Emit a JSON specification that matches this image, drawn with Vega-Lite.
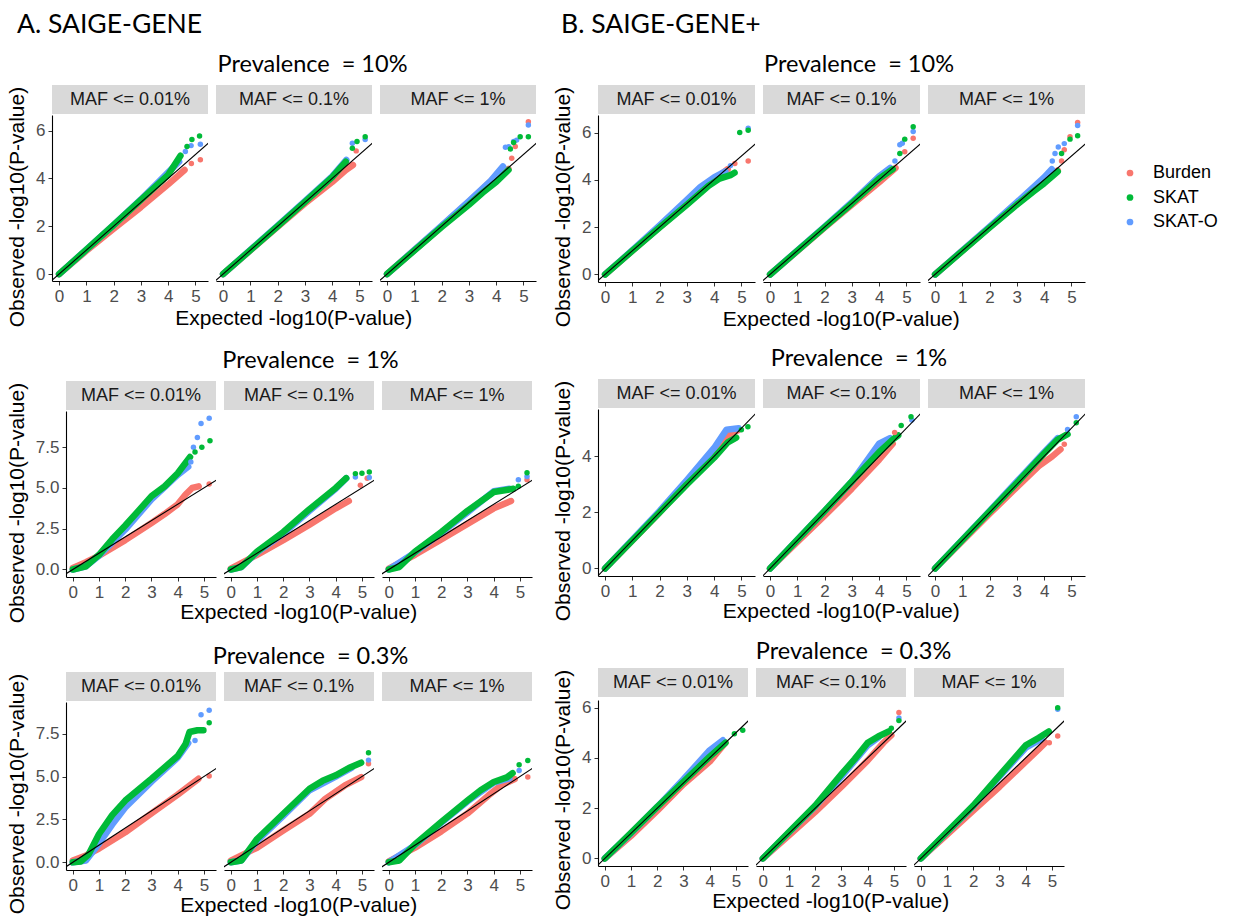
{
"$schema": "https://vega.github.io/schema/vega-lite/v6.json",
"background": "white",
"padding": {"left": 6, "top": 11, "right": 5, "bottom": 0},
"config": {
  "view": {"stroke": null},
  "font": "Liberation Sans",
  "axis": {"domainColor": "#000000", "domainWidth": 1.1, "tickColor": "#333333", "tickSize": 4, "labelColor": "#4D4D4D", "labelFontSize": 17, "labelFont": "Liberation Sans", "labelPadding": 3, "grid": false, "title": null},
  "title": {"font": "Lato", "fontWeight": "normal", "color": "#000000", "fontSize": 23.5}
},
"datasets": {
"ytitle": [{"label": "Observed -log10(P-value)"}],
"strips": [
{"maf":"0.01","label":"MAF <= 0.01%"},{"maf":"0.1","label":"MAF <= 0.1%"},{"maf":"1","label":"MAF <= 1%"}
],
"qq": [
{"g":"A1","maf":"0.01","t":"Burden","k":"l","x":0,"y":0},{"g":"A1","maf":"0.01","t":"Burden","k":"l","x":1,"y":0.97},{"g":"A1","maf":"0.01","t":"Burden","k":"l","x":2,"y":1.9},{"g":"A1","maf":"0.01","t":"Burden","k":"l","x":3,"y":2.8},{"g":"A1","maf":"0.01","t":"Burden","k":"l","x":4,"y":3.75},{"g":"A1","maf":"0.01","t":"Burden","k":"l","x":4.6,"y":4.35},
{"g":"A1","maf":"0.01","t":"Burden","k":"p","x":4.85,"y":4.62},{"g":"A1","maf":"0.01","t":"Burden","k":"p","x":5.18,"y":4.78},
{"g":"A1","maf":"0.01","t":"SKAT-O","k":"l","x":0,"y":0},{"g":"A1","maf":"0.01","t":"SKAT-O","k":"l","x":1,"y":1.02},{"g":"A1","maf":"0.01","t":"SKAT-O","k":"l","x":2,"y":2.05},{"g":"A1","maf":"0.01","t":"SKAT-O","k":"l","x":3,"y":3.12},{"g":"A1","maf":"0.01","t":"SKAT-O","k":"l","x":4,"y":4.25},{"g":"A1","maf":"0.01","t":"SKAT-O","k":"l","x":4.4,"y":4.7},
{"g":"A1","maf":"0.01","t":"SKAT-O","k":"p","x":4.63,"y":5.12},{"g":"A1","maf":"0.01","t":"SKAT-O","k":"p","x":4.84,"y":5.37},{"g":"A1","maf":"0.01","t":"SKAT-O","k":"p","x":5.18,"y":5.43},
{"g":"A1","maf":"0.01","t":"SKAT","k":"l","x":0,"y":0},{"g":"A1","maf":"0.01","t":"SKAT","k":"l","x":1,"y":1.02},{"g":"A1","maf":"0.01","t":"SKAT","k":"l","x":2,"y":2.05},{"g":"A1","maf":"0.01","t":"SKAT","k":"l","x":3,"y":3.1},{"g":"A1","maf":"0.01","t":"SKAT","k":"l","x":4,"y":4.15},{"g":"A1","maf":"0.01","t":"SKAT","k":"l","x":4.45,"y":4.95},
{"g":"A1","maf":"0.01","t":"SKAT","k":"p","x":4.69,"y":5.33},{"g":"A1","maf":"0.01","t":"SKAT","k":"p","x":4.87,"y":5.63},{"g":"A1","maf":"0.01","t":"SKAT","k":"p","x":5.15,"y":5.77},

{"g":"A1","maf":"0.1","t":"Burden","k":"l","x":0,"y":0},{"g":"A1","maf":"0.1","t":"Burden","k":"l","x":2,"y":1.98},{"g":"A1","maf":"0.1","t":"Burden","k":"l","x":3,"y":2.95},{"g":"A1","maf":"0.1","t":"Burden","k":"l","x":4,"y":3.85},{"g":"A1","maf":"0.1","t":"Burden","k":"l","x":4.5,"y":4.35},{"g":"A1","maf":"0.1","t":"Burden","k":"l","x":4.76,"y":4.56},
{"g":"A1","maf":"0.1","t":"Burden","k":"p","x":4.88,"y":5.15},
{"g":"A1","maf":"0.1","t":"SKAT-O","k":"l","x":0,"y":0},{"g":"A1","maf":"0.1","t":"SKAT-O","k":"l","x":2,"y":2.02},{"g":"A1","maf":"0.1","t":"SKAT-O","k":"l","x":3,"y":3.05},{"g":"A1","maf":"0.1","t":"SKAT-O","k":"l","x":4,"y":4.08},{"g":"A1","maf":"0.1","t":"SKAT-O","k":"l","x":4.52,"y":4.77},
{"g":"A1","maf":"0.1","t":"SKAT-O","k":"p","x":4.74,"y":5.47},{"g":"A1","maf":"0.1","t":"SKAT-O","k":"p","x":5.21,"y":5.63},
{"g":"A1","maf":"0.1","t":"SKAT","k":"l","x":0,"y":0},{"g":"A1","maf":"0.1","t":"SKAT","k":"l","x":2,"y":2},{"g":"A1","maf":"0.1","t":"SKAT","k":"l","x":3,"y":3.02},{"g":"A1","maf":"0.1","t":"SKAT","k":"l","x":4,"y":4.05},{"g":"A1","maf":"0.1","t":"SKAT","k":"l","x":4.5,"y":4.7},
{"g":"A1","maf":"0.1","t":"SKAT","k":"p","x":4.74,"y":5.26},{"g":"A1","maf":"0.1","t":"SKAT","k":"p","x":4.91,"y":5.54},{"g":"A1","maf":"0.1","t":"SKAT","k":"p","x":5.21,"y":5.74},

{"g":"A1","maf":"1","t":"Burden","k":"l","x":0,"y":0},{"g":"A1","maf":"1","t":"Burden","k":"l","x":2,"y":2},{"g":"A1","maf":"1","t":"Burden","k":"l","x":3,"y":3.02},{"g":"A1","maf":"1","t":"Burden","k":"l","x":3.85,"y":3.93},{"g":"A1","maf":"1","t":"Burden","k":"l","x":4.2,"y":4.25},{"g":"A1","maf":"1","t":"Burden","k":"l","x":4.45,"y":4.4},
{"g":"A1","maf":"1","t":"Burden","k":"p","x":4.57,"y":4.84},{"g":"A1","maf":"1","t":"Burden","k":"p","x":4.7,"y":5.33},{"g":"A1","maf":"1","t":"Burden","k":"p","x":5.18,"y":6.37},
{"g":"A1","maf":"1","t":"SKAT-O","k":"l","x":0,"y":0},{"g":"A1","maf":"1","t":"SKAT-O","k":"l","x":2,"y":2.02},{"g":"A1","maf":"1","t":"SKAT-O","k":"l","x":3,"y":3.05},{"g":"A1","maf":"1","t":"SKAT-O","k":"l","x":3.8,"y":3.9},{"g":"A1","maf":"1","t":"SKAT-O","k":"l","x":4.25,"y":4.5},
{"g":"A1","maf":"1","t":"SKAT-O","k":"p","x":4.34,"y":5.3},{"g":"A1","maf":"1","t":"SKAT-O","k":"p","x":4.46,"y":5.32},{"g":"A1","maf":"1","t":"SKAT-O","k":"p","x":4.64,"y":5.54},{"g":"A1","maf":"1","t":"SKAT-O","k":"p","x":4.75,"y":5.6},{"g":"A1","maf":"1","t":"SKAT-O","k":"p","x":5.18,"y":6.23},
{"g":"A1","maf":"1","t":"SKAT","k":"l","x":0,"y":0},{"g":"A1","maf":"1","t":"SKAT","k":"l","x":2,"y":1.97},{"g":"A1","maf":"1","t":"SKAT","k":"l","x":3,"y":2.9},{"g":"A1","maf":"1","t":"SKAT","k":"l","x":3.5,"y":3.4},{"g":"A1","maf":"1","t":"SKAT","k":"l","x":4,"y":3.85},{"g":"A1","maf":"1","t":"SKAT","k":"l","x":4.45,"y":4.35},
{"g":"A1","maf":"1","t":"SKAT","k":"p","x":4.52,"y":5.23},{"g":"A1","maf":"1","t":"SKAT","k":"p","x":4.64,"y":5.5},{"g":"A1","maf":"1","t":"SKAT","k":"p","x":4.88,"y":5.74},{"g":"A1","maf":"1","t":"SKAT","k":"p","x":5.18,"y":5.74},

{"g":"A2","maf":"0.01","t":"Burden","k":"l","x":0,"y":0.1},{"g":"A2","maf":"0.01","t":"Burden","k":"l","x":0.5,"y":0.45},{"g":"A2","maf":"0.01","t":"Burden","k":"l","x":1,"y":0.85},{"g":"A2","maf":"0.01","t":"Burden","k":"l","x":2,"y":1.8},{"g":"A2","maf":"0.01","t":"Burden","k":"l","x":3,"y":2.85},{"g":"A2","maf":"0.01","t":"Burden","k":"l","x":3.5,"y":3.4},{"g":"A2","maf":"0.01","t":"Burden","k":"l","x":4,"y":4.0},{"g":"A2","maf":"0.01","t":"Burden","k":"l","x":4.3,"y":4.6},{"g":"A2","maf":"0.01","t":"Burden","k":"l","x":4.55,"y":5.0},{"g":"A2","maf":"0.01","t":"Burden","k":"l","x":4.8,"y":5.1},
{"g":"A2","maf":"0.01","t":"Burden","k":"p","x":5.2,"y":5.25},
{"g":"A2","maf":"0.01","t":"SKAT-O","k":"l","x":0,"y":0},{"g":"A2","maf":"0.01","t":"SKAT-O","k":"l","x":0.5,"y":0.2},{"g":"A2","maf":"0.01","t":"SKAT-O","k":"l","x":1,"y":0.85},{"g":"A2","maf":"0.01","t":"SKAT-O","k":"l","x":2,"y":2.45},{"g":"A2","maf":"0.01","t":"SKAT-O","k":"l","x":3,"y":4.3},{"g":"A2","maf":"0.01","t":"SKAT-O","k":"l","x":4,"y":5.8},{"g":"A2","maf":"0.01","t":"SKAT-O","k":"l","x":4.4,"y":6.3},
{"g":"A2","maf":"0.01","t":"SKAT-O","k":"p","x":4.5,"y":6.6},{"g":"A2","maf":"0.01","t":"SKAT-O","k":"p","x":4.6,"y":7.5},{"g":"A2","maf":"0.01","t":"SKAT-O","k":"p","x":4.75,"y":8.1},{"g":"A2","maf":"0.01","t":"SKAT-O","k":"p","x":4.89,"y":8.96},{"g":"A2","maf":"0.01","t":"SKAT-O","k":"p","x":5.2,"y":9.27},
{"g":"A2","maf":"0.01","t":"SKAT","k":"l","x":0,"y":0},{"g":"A2","maf":"0.01","t":"SKAT","k":"l","x":0.5,"y":0.2},{"g":"A2","maf":"0.01","t":"SKAT","k":"l","x":1,"y":0.9},{"g":"A2","maf":"0.01","t":"SKAT","k":"l","x":1.5,"y":1.85},{"g":"A2","maf":"0.01","t":"SKAT","k":"l","x":2,"y":2.7},{"g":"A2","maf":"0.01","t":"SKAT","k":"l","x":2.5,"y":3.6},{"g":"A2","maf":"0.01","t":"SKAT","k":"l","x":3,"y":4.5},{"g":"A2","maf":"0.01","t":"SKAT","k":"l","x":3.5,"y":5.1},{"g":"A2","maf":"0.01","t":"SKAT","k":"l","x":4,"y":5.9},{"g":"A2","maf":"0.01","t":"SKAT","k":"l","x":4.47,"y":6.9},
{"g":"A2","maf":"0.01","t":"SKAT","k":"p","x":4.66,"y":7.2},{"g":"A2","maf":"0.01","t":"SKAT","k":"p","x":4.92,"y":7.5},{"g":"A2","maf":"0.01","t":"SKAT","k":"p","x":5.23,"y":7.9},

{"g":"A2","maf":"0.1","t":"Burden","k":"l","x":0,"y":0.05},{"g":"A2","maf":"0.1","t":"Burden","k":"l","x":1,"y":0.9},{"g":"A2","maf":"0.1","t":"Burden","k":"l","x":2,"y":1.8},{"g":"A2","maf":"0.1","t":"Burden","k":"l","x":3,"y":2.75},{"g":"A2","maf":"0.1","t":"Burden","k":"l","x":4,"y":3.75},{"g":"A2","maf":"0.1","t":"Burden","k":"l","x":4.5,"y":4.2},
{"g":"A2","maf":"0.1","t":"Burden","k":"p","x":4.94,"y":5.17},{"g":"A2","maf":"0.1","t":"Burden","k":"p","x":5.2,"y":5.6},
{"g":"A2","maf":"0.1","t":"SKAT-O","k":"l","x":0,"y":0},{"g":"A2","maf":"0.1","t":"SKAT-O","k":"l","x":0.4,"y":0.15},{"g":"A2","maf":"0.1","t":"SKAT-O","k":"l","x":1,"y":1.05},{"g":"A2","maf":"0.1","t":"SKAT-O","k":"l","x":2,"y":2.2},{"g":"A2","maf":"0.1","t":"SKAT-O","k":"l","x":3,"y":3.6},{"g":"A2","maf":"0.1","t":"SKAT-O","k":"l","x":4,"y":4.95},{"g":"A2","maf":"0.1","t":"SKAT-O","k":"l","x":4.4,"y":5.6},
{"g":"A2","maf":"0.1","t":"SKAT-O","k":"p","x":4.75,"y":5.67},{"g":"A2","maf":"0.1","t":"SKAT-O","k":"p","x":5.28,"y":5.64},
{"g":"A2","maf":"0.1","t":"SKAT","k":"l","x":0,"y":0},{"g":"A2","maf":"0.1","t":"SKAT","k":"l","x":0.4,"y":0.15},{"g":"A2","maf":"0.1","t":"SKAT","k":"l","x":1,"y":1.1},{"g":"A2","maf":"0.1","t":"SKAT","k":"l","x":2,"y":2.3},{"g":"A2","maf":"0.1","t":"SKAT","k":"l","x":3,"y":3.7},{"g":"A2","maf":"0.1","t":"SKAT","k":"l","x":4,"y":5.0},{"g":"A2","maf":"0.1","t":"SKAT","k":"l","x":4.4,"y":5.6},
{"g":"A2","maf":"0.1","t":"SKAT","k":"p","x":4.75,"y":5.88},{"g":"A2","maf":"0.1","t":"SKAT","k":"p","x":5.0,"y":5.9},{"g":"A2","maf":"0.1","t":"SKAT","k":"p","x":5.28,"y":5.98},

{"g":"A2","maf":"1","t":"Burden","k":"l","x":0,"y":0.05},{"g":"A2","maf":"1","t":"Burden","k":"l","x":1,"y":0.9},{"g":"A2","maf":"1","t":"Burden","k":"l","x":2,"y":1.85},{"g":"A2","maf":"1","t":"Burden","k":"l","x":3,"y":2.8},{"g":"A2","maf":"1","t":"Burden","k":"l","x":4,"y":3.75},{"g":"A2","maf":"1","t":"Burden","k":"l","x":4.66,"y":4.2},
{"g":"A2","maf":"1","t":"Burden","k":"p","x":5.27,"y":5.5},
{"g":"A2","maf":"1","t":"SKAT-O","k":"l","x":0,"y":0},{"g":"A2","maf":"1","t":"SKAT-O","k":"l","x":1,"y":1.05},{"g":"A2","maf":"1","t":"SKAT-O","k":"l","x":2,"y":2.25},{"g":"A2","maf":"1","t":"SKAT-O","k":"l","x":3,"y":3.5},{"g":"A2","maf":"1","t":"SKAT-O","k":"l","x":4,"y":4.8},{"g":"A2","maf":"1","t":"SKAT-O","k":"l","x":4.6,"y":4.95},
{"g":"A2","maf":"1","t":"SKAT-O","k":"p","x":4.94,"y":5.5},{"g":"A2","maf":"1","t":"SKAT-O","k":"p","x":5.27,"y":5.7},
{"g":"A2","maf":"1","t":"SKAT","k":"l","x":0,"y":0},{"g":"A2","maf":"1","t":"SKAT","k":"l","x":0.4,"y":0.15},{"g":"A2","maf":"1","t":"SKAT","k":"l","x":1,"y":1.1},{"g":"A2","maf":"1","t":"SKAT","k":"l","x":2,"y":2.3},{"g":"A2","maf":"1","t":"SKAT","k":"l","x":3,"y":3.6},{"g":"A2","maf":"1","t":"SKAT","k":"l","x":4,"y":4.75},{"g":"A2","maf":"1","t":"SKAT","k":"l","x":4.75,"y":4.95},
{"g":"A2","maf":"1","t":"SKAT","k":"p","x":4.94,"y":5.1},{"g":"A2","maf":"1","t":"SKAT","k":"p","x":5.27,"y":5.94},

{"g":"A3","maf":"0.01","t":"Burden","k":"l","x":0,"y":0.1},{"g":"A3","maf":"0.01","t":"Burden","k":"l","x":0.5,"y":0.4},{"g":"A3","maf":"0.01","t":"Burden","k":"l","x":1,"y":0.8},{"g":"A3","maf":"0.01","t":"Burden","k":"l","x":2,"y":1.75},{"g":"A3","maf":"0.01","t":"Burden","k":"l","x":3,"y":2.85},{"g":"A3","maf":"0.01","t":"Burden","k":"l","x":4,"y":3.95},{"g":"A3","maf":"0.01","t":"Burden","k":"l","x":4.79,"y":4.87},
{"g":"A3","maf":"0.01","t":"Burden","k":"p","x":5.2,"y":5.03},
{"g":"A3","maf":"0.01","t":"SKAT-O","k":"l","x":0,"y":0},{"g":"A3","maf":"0.01","t":"SKAT-O","k":"l","x":0.5,"y":0.1},{"g":"A3","maf":"0.01","t":"SKAT-O","k":"l","x":1,"y":1.1},{"g":"A3","maf":"0.01","t":"SKAT-O","k":"l","x":1.5,"y":2.2},{"g":"A3","maf":"0.01","t":"SKAT-O","k":"l","x":2,"y":3.2},{"g":"A3","maf":"0.01","t":"SKAT-O","k":"l","x":3,"y":4.7},{"g":"A3","maf":"0.01","t":"SKAT-O","k":"l","x":4,"y":6.1},{"g":"A3","maf":"0.01","t":"SKAT-O","k":"l","x":4.4,"y":6.95},
{"g":"A3","maf":"0.01","t":"SKAT-O","k":"p","x":4.66,"y":7.11},{"g":"A3","maf":"0.01","t":"SKAT-O","k":"p","x":4.89,"y":8.61},{"g":"A3","maf":"0.01","t":"SKAT-O","k":"p","x":5.2,"y":8.87},
{"g":"A3","maf":"0.01","t":"SKAT","k":"l","x":0,"y":0},{"g":"A3","maf":"0.01","t":"SKAT","k":"l","x":0.3,"y":0.05},{"g":"A3","maf":"0.01","t":"SKAT","k":"l","x":0.6,"y":0.45},{"g":"A3","maf":"0.01","t":"SKAT","k":"l","x":0.8,"y":1.05},{"g":"A3","maf":"0.01","t":"SKAT","k":"l","x":1,"y":1.65},{"g":"A3","maf":"0.01","t":"SKAT","k":"l","x":1.5,"y":2.75},{"g":"A3","maf":"0.01","t":"SKAT","k":"l","x":2,"y":3.6},{"g":"A3","maf":"0.01","t":"SKAT","k":"l","x":3,"y":4.87},{"g":"A3","maf":"0.01","t":"SKAT","k":"l","x":4,"y":6.2},{"g":"A3","maf":"0.01","t":"SKAT","k":"l","x":4.3,"y":6.9},{"g":"A3","maf":"0.01","t":"SKAT","k":"l","x":4.45,"y":7.6},{"g":"A3","maf":"0.01","t":"SKAT","k":"l","x":4.75,"y":7.7},{"g":"A3","maf":"0.01","t":"SKAT","k":"l","x":4.98,"y":7.7},
{"g":"A3","maf":"0.01","t":"SKAT","k":"p","x":5.2,"y":8.14},

{"g":"A3","maf":"0.1","t":"Burden","k":"l","x":0,"y":0.1},{"g":"A3","maf":"0.1","t":"Burden","k":"l","x":1,"y":0.85},{"g":"A3","maf":"0.1","t":"Burden","k":"l","x":2,"y":1.85},{"g":"A3","maf":"0.1","t":"Burden","k":"l","x":3,"y":2.83},{"g":"A3","maf":"0.1","t":"Burden","k":"l","x":3.6,"y":3.7},{"g":"A3","maf":"0.1","t":"Burden","k":"l","x":4.35,"y":4.48},{"g":"A3","maf":"0.1","t":"Burden","k":"l","x":4.97,"y":4.97},
{"g":"A3","maf":"0.1","t":"Burden","k":"p","x":5.25,"y":5.75},
{"g":"A3","maf":"0.1","t":"SKAT-O","k":"l","x":0,"y":0},{"g":"A3","maf":"0.1","t":"SKAT-O","k":"l","x":0.4,"y":0.1},{"g":"A3","maf":"0.1","t":"SKAT-O","k":"l","x":1,"y":1.25},{"g":"A3","maf":"0.1","t":"SKAT-O","k":"l","x":2,"y":2.7},{"g":"A3","maf":"0.1","t":"SKAT-O","k":"l","x":3,"y":4.2},{"g":"A3","maf":"0.1","t":"SKAT-O","k":"l","x":4,"y":5.0},{"g":"A3","maf":"0.1","t":"SKAT-O","k":"l","x":4.6,"y":5.5},
{"g":"A3","maf":"0.1","t":"SKAT-O","k":"p","x":5.25,"y":5.96},
{"g":"A3","maf":"0.1","t":"SKAT","k":"l","x":0,"y":0},{"g":"A3","maf":"0.1","t":"SKAT","k":"l","x":0.4,"y":0.1},{"g":"A3","maf":"0.1","t":"SKAT","k":"l","x":1,"y":1.36},{"g":"A3","maf":"0.1","t":"SKAT","k":"l","x":2,"y":2.83},{"g":"A3","maf":"0.1","t":"SKAT","k":"l","x":3,"y":4.29},{"g":"A3","maf":"0.1","t":"SKAT","k":"l","x":3.5,"y":4.75},{"g":"A3","maf":"0.1","t":"SKAT","k":"l","x":4,"y":5.07},{"g":"A3","maf":"0.1","t":"SKAT","k":"l","x":4.5,"y":5.5},{"g":"A3","maf":"0.1","t":"SKAT","k":"l","x":4.97,"y":5.81},
{"g":"A3","maf":"0.1","t":"SKAT","k":"p","x":5.25,"y":6.39},

{"g":"A3","maf":"1","t":"Burden","k":"l","x":0,"y":0.05},{"g":"A3","maf":"1","t":"Burden","k":"l","x":1,"y":0.85},{"g":"A3","maf":"1","t":"Burden","k":"l","x":2,"y":1.8},{"g":"A3","maf":"1","t":"Burden","k":"l","x":3,"y":2.85},{"g":"A3","maf":"1","t":"Burden","k":"l","x":3.8,"y":3.9},{"g":"A3","maf":"1","t":"Burden","k":"l","x":4.3,"y":4.5},{"g":"A3","maf":"1","t":"Burden","k":"l","x":4.8,"y":4.85},
{"g":"A3","maf":"1","t":"Burden","k":"p","x":5.3,"y":4.97},
{"g":"A3","maf":"1","t":"SKAT-O","k":"l","x":0,"y":0},{"g":"A3","maf":"1","t":"SKAT-O","k":"l","x":1,"y":1.0},{"g":"A3","maf":"1","t":"SKAT-O","k":"l","x":2,"y":2.3},{"g":"A3","maf":"1","t":"SKAT-O","k":"l","x":3,"y":3.55},{"g":"A3","maf":"1","t":"SKAT-O","k":"l","x":4,"y":4.65},{"g":"A3","maf":"1","t":"SKAT-O","k":"l","x":4.6,"y":4.9},
{"g":"A3","maf":"1","t":"SKAT-O","k":"p","x":4.97,"y":5.36},
{"g":"A3","maf":"1","t":"SKAT","k":"l","x":0,"y":0},{"g":"A3","maf":"1","t":"SKAT","k":"l","x":0.4,"y":0.1},{"g":"A3","maf":"1","t":"SKAT","k":"l","x":1,"y":1.05},{"g":"A3","maf":"1","t":"SKAT","k":"l","x":2,"y":2.35},{"g":"A3","maf":"1","t":"SKAT","k":"l","x":3,"y":3.6},{"g":"A3","maf":"1","t":"SKAT","k":"l","x":3.5,"y":4.2},{"g":"A3","maf":"1","t":"SKAT","k":"l","x":4,"y":4.68},{"g":"A3","maf":"1","t":"SKAT","k":"l","x":4.5,"y":4.95},{"g":"A3","maf":"1","t":"SKAT","k":"l","x":4.72,"y":5.2},
{"g":"A3","maf":"1","t":"SKAT","k":"p","x":4.97,"y":5.69},{"g":"A3","maf":"1","t":"SKAT","k":"p","x":5.3,"y":5.94},

{"g":"B1","maf":"0.01","t":"Burden","k":"l","x":0,"y":0},{"g":"B1","maf":"0.01","t":"Burden","k":"l","x":2,"y":2},{"g":"B1","maf":"0.01","t":"Burden","k":"l","x":3,"y":3},{"g":"B1","maf":"0.01","t":"Burden","k":"l","x":4,"y":4},{"g":"B1","maf":"0.01","t":"Burden","k":"l","x":4.5,"y":4.45},
{"g":"B1","maf":"0.01","t":"Burden","k":"p","x":4.76,"y":4.69},{"g":"B1","maf":"0.01","t":"Burden","k":"p","x":5.25,"y":4.8},
{"g":"B1","maf":"0.01","t":"SKAT-O","k":"l","x":0,"y":0},{"g":"B1","maf":"0.01","t":"SKAT-O","k":"l","x":1,"y":1.02},{"g":"B1","maf":"0.01","t":"SKAT-O","k":"l","x":2,"y":2.07},{"g":"B1","maf":"0.01","t":"SKAT-O","k":"l","x":3,"y":3.15},{"g":"B1","maf":"0.01","t":"SKAT-O","k":"l","x":3.5,"y":3.7},{"g":"B1","maf":"0.01","t":"SKAT-O","k":"l","x":4,"y":4.1},{"g":"B1","maf":"0.01","t":"SKAT-O","k":"l","x":4.41,"y":4.36},
{"g":"B1","maf":"0.01","t":"SKAT-O","k":"p","x":4.6,"y":4.6},{"g":"B1","maf":"0.01","t":"SKAT-O","k":"p","x":5.25,"y":6.18},
{"g":"B1","maf":"0.01","t":"SKAT","k":"l","x":0,"y":0},{"g":"B1","maf":"0.01","t":"SKAT","k":"l","x":1,"y":1},{"g":"B1","maf":"0.01","t":"SKAT","k":"l","x":2,"y":1.98},{"g":"B1","maf":"0.01","t":"SKAT","k":"l","x":3,"y":2.95},{"g":"B1","maf":"0.01","t":"SKAT","k":"l","x":3.8,"y":3.75},{"g":"B1","maf":"0.01","t":"SKAT","k":"l","x":4.2,"y":4.05},{"g":"B1","maf":"0.01","t":"SKAT","k":"l","x":4.6,"y":4.2},{"g":"B1","maf":"0.01","t":"SKAT","k":"l","x":4.75,"y":4.3},
{"g":"B1","maf":"0.01","t":"SKAT","k":"p","x":4.94,"y":6.0},{"g":"B1","maf":"0.01","t":"SKAT","k":"p","x":5.25,"y":6.1},

{"g":"B1","maf":"0.1","t":"Burden","k":"l","x":0,"y":0},{"g":"B1","maf":"0.1","t":"Burden","k":"l","x":2,"y":1.98},{"g":"B1","maf":"0.1","t":"Burden","k":"l","x":3,"y":2.95},{"g":"B1","maf":"0.1","t":"Burden","k":"l","x":4,"y":3.9},{"g":"B1","maf":"0.1","t":"Burden","k":"l","x":4.6,"y":4.5},
{"g":"B1","maf":"0.1","t":"Burden","k":"p","x":4.94,"y":5.19},{"g":"B1","maf":"0.1","t":"Burden","k":"p","x":5.25,"y":5.76},
{"g":"B1","maf":"0.1","t":"SKAT-O","k":"l","x":0,"y":0},{"g":"B1","maf":"0.1","t":"SKAT-O","k":"l","x":2,"y":2.02},{"g":"B1","maf":"0.1","t":"SKAT-O","k":"l","x":3,"y":3.05},{"g":"B1","maf":"0.1","t":"SKAT-O","k":"l","x":4,"y":4.15},{"g":"B1","maf":"0.1","t":"SKAT-O","k":"l","x":4.4,"y":4.5},
{"g":"B1","maf":"0.1","t":"SKAT-O","k":"p","x":4.58,"y":4.8},{"g":"B1","maf":"0.1","t":"SKAT-O","k":"p","x":4.76,"y":5.48},{"g":"B1","maf":"0.1","t":"SKAT-O","k":"p","x":4.85,"y":5.55},{"g":"B1","maf":"0.1","t":"SKAT-O","k":"p","x":5.25,"y":6.04},
{"g":"B1","maf":"0.1","t":"SKAT","k":"l","x":0,"y":0},{"g":"B1","maf":"0.1","t":"SKAT","k":"l","x":2,"y":2},{"g":"B1","maf":"0.1","t":"SKAT","k":"l","x":3,"y":3},{"g":"B1","maf":"0.1","t":"SKAT","k":"l","x":4,"y":4.05},{"g":"B1","maf":"0.1","t":"SKAT","k":"l","x":4.5,"y":4.45},
{"g":"B1","maf":"0.1","t":"SKAT","k":"p","x":4.76,"y":5.11},{"g":"B1","maf":"0.1","t":"SKAT","k":"p","x":4.94,"y":5.72},{"g":"B1","maf":"0.1","t":"SKAT","k":"p","x":5.25,"y":6.24},

{"g":"B1","maf":"1","t":"Burden","k":"l","x":0,"y":0},{"g":"B1","maf":"1","t":"Burden","k":"l","x":2,"y":2},{"g":"B1","maf":"1","t":"Burden","k":"l","x":3,"y":3},{"g":"B1","maf":"1","t":"Burden","k":"l","x":4,"y":4},{"g":"B1","maf":"1","t":"Burden","k":"l","x":4.5,"y":4.4},
{"g":"B1","maf":"1","t":"Burden","k":"p","x":4.64,"y":4.8},{"g":"B1","maf":"1","t":"Burden","k":"p","x":4.74,"y":5.27},{"g":"B1","maf":"1","t":"Burden","k":"p","x":4.95,"y":5.82},{"g":"B1","maf":"1","t":"Burden","k":"p","x":5.23,"y":6.42},
{"g":"B1","maf":"1","t":"SKAT-O","k":"l","x":0,"y":0},{"g":"B1","maf":"1","t":"SKAT-O","k":"l","x":2,"y":2.02},{"g":"B1","maf":"1","t":"SKAT-O","k":"l","x":3,"y":3.05},{"g":"B1","maf":"1","t":"SKAT-O","k":"l","x":4,"y":4.1},{"g":"B1","maf":"1","t":"SKAT-O","k":"l","x":4.28,"y":4.45},
{"g":"B1","maf":"1","t":"SKAT-O","k":"p","x":4.3,"y":4.8},{"g":"B1","maf":"1","t":"SKAT-O","k":"p","x":4.4,"y":5.11},{"g":"B1","maf":"1","t":"SKAT-O","k":"p","x":4.52,"y":5.39},{"g":"B1","maf":"1","t":"SKAT-O","k":"p","x":4.74,"y":5.53},{"g":"B1","maf":"1","t":"SKAT-O","k":"p","x":5.23,"y":6.3},
{"g":"B1","maf":"1","t":"SKAT","k":"l","x":0,"y":0},{"g":"B1","maf":"1","t":"SKAT","k":"l","x":2,"y":1.98},{"g":"B1","maf":"1","t":"SKAT","k":"l","x":3,"y":2.95},{"g":"B1","maf":"1","t":"SKAT","k":"l","x":3.6,"y":3.5},{"g":"B1","maf":"1","t":"SKAT","k":"l","x":4,"y":3.85},{"g":"B1","maf":"1","t":"SKAT","k":"l","x":4.5,"y":4.35},
{"g":"B1","maf":"1","t":"SKAT","k":"p","x":4.64,"y":5.11},{"g":"B1","maf":"1","t":"SKAT","k":"p","x":4.95,"y":5.72},{"g":"B1","maf":"1","t":"SKAT","k":"p","x":5.23,"y":5.86},

{"g":"B2","maf":"0.01","t":"Burden","k":"l","x":0,"y":0},{"g":"B2","maf":"0.01","t":"Burden","k":"l","x":2,"y":2},{"g":"B2","maf":"0.01","t":"Burden","k":"l","x":3,"y":3.05},{"g":"B2","maf":"0.01","t":"Burden","k":"l","x":4,"y":4.15},{"g":"B2","maf":"0.01","t":"Burden","k":"l","x":4.5,"y":4.75},{"g":"B2","maf":"0.01","t":"Burden","k":"l","x":4.9,"y":4.95},
{"g":"B2","maf":"0.01","t":"SKAT-O","k":"l","x":0,"y":0},{"g":"B2","maf":"0.01","t":"SKAT-O","k":"l","x":2,"y":2.05},{"g":"B2","maf":"0.01","t":"SKAT-O","k":"l","x":3,"y":3.15},{"g":"B2","maf":"0.01","t":"SKAT-O","k":"l","x":4,"y":4.3},{"g":"B2","maf":"0.01","t":"SKAT-O","k":"l","x":4.45,"y":4.95},{"g":"B2","maf":"0.01","t":"SKAT-O","k":"l","x":4.9,"y":5.0},
{"g":"B2","maf":"0.01","t":"SKAT","k":"l","x":0,"y":0},{"g":"B2","maf":"0.01","t":"SKAT","k":"l","x":2,"y":2},{"g":"B2","maf":"0.01","t":"SKAT","k":"l","x":3,"y":3},{"g":"B2","maf":"0.01","t":"SKAT","k":"l","x":4,"y":3.95},{"g":"B2","maf":"0.01","t":"SKAT","k":"l","x":4.5,"y":4.5},{"g":"B2","maf":"0.01","t":"SKAT","k":"l","x":4.81,"y":4.67},
{"g":"B2","maf":"0.01","t":"SKAT","k":"p","x":5.0,"y":4.95},{"g":"B2","maf":"0.01","t":"SKAT","k":"p","x":5.24,"y":5.06},

{"g":"B2","maf":"0.1","t":"Burden","k":"l","x":0,"y":0},{"g":"B2","maf":"0.1","t":"Burden","k":"l","x":1,"y":0.95},{"g":"B2","maf":"0.1","t":"Burden","k":"l","x":2,"y":1.88},{"g":"B2","maf":"0.1","t":"Burden","k":"l","x":3,"y":2.85},{"g":"B2","maf":"0.1","t":"Burden","k":"l","x":4,"y":3.88},{"g":"B2","maf":"0.1","t":"Burden","k":"l","x":4.5,"y":4.45},
{"g":"B2","maf":"0.1","t":"Burden","k":"p","x":4.57,"y":4.85},
{"g":"B2","maf":"0.1","t":"SKAT-O","k":"l","x":0,"y":0},{"g":"B2","maf":"0.1","t":"SKAT-O","k":"l","x":2,"y":2.05},{"g":"B2","maf":"0.1","t":"SKAT-O","k":"l","x":3,"y":3.1},{"g":"B2","maf":"0.1","t":"SKAT-O","k":"l","x":4,"y":4.45},{"g":"B2","maf":"0.1","t":"SKAT-O","k":"l","x":4.4,"y":4.65},
{"g":"B2","maf":"0.1","t":"SKAT-O","k":"p","x":5.2,"y":5.3},
{"g":"B2","maf":"0.1","t":"SKAT","k":"l","x":0,"y":0},{"g":"B2","maf":"0.1","t":"SKAT","k":"l","x":2,"y":2.05},{"g":"B2","maf":"0.1","t":"SKAT","k":"l","x":3,"y":3.1},{"g":"B2","maf":"0.1","t":"SKAT","k":"l","x":4,"y":4.15},{"g":"B2","maf":"0.1","t":"SKAT","k":"l","x":4.5,"y":4.6},{"g":"B2","maf":"0.1","t":"SKAT","k":"l","x":4.7,"y":4.75},
{"g":"B2","maf":"0.1","t":"SKAT","k":"p","x":4.81,"y":5.1},{"g":"B2","maf":"0.1","t":"SKAT","k":"p","x":5.17,"y":5.41},

{"g":"B2","maf":"1","t":"Burden","k":"l","x":0,"y":0},{"g":"B2","maf":"1","t":"Burden","k":"l","x":2,"y":1.95},{"g":"B2","maf":"1","t":"Burden","k":"l","x":3,"y":2.9},{"g":"B2","maf":"1","t":"Burden","k":"l","x":3.8,"y":3.65},{"g":"B2","maf":"1","t":"Burden","k":"l","x":4.3,"y":4.0},{"g":"B2","maf":"1","t":"Burden","k":"l","x":4.6,"y":4.25},
{"g":"B2","maf":"1","t":"Burden","k":"p","x":4.74,"y":4.43},
{"g":"B2","maf":"1","t":"SKAT-O","k":"l","x":0,"y":0},{"g":"B2","maf":"1","t":"SKAT-O","k":"l","x":2,"y":2.05},{"g":"B2","maf":"1","t":"SKAT-O","k":"l","x":3,"y":3.1},{"g":"B2","maf":"1","t":"SKAT-O","k":"l","x":4,"y":4.15},{"g":"B2","maf":"1","t":"SKAT-O","k":"l","x":4.5,"y":4.65},
{"g":"B2","maf":"1","t":"SKAT-O","k":"p","x":4.86,"y":4.96},{"g":"B2","maf":"1","t":"SKAT-O","k":"p","x":5.18,"y":5.41},
{"g":"B2","maf":"1","t":"SKAT","k":"l","x":0,"y":0},{"g":"B2","maf":"1","t":"SKAT","k":"l","x":2,"y":2.03},{"g":"B2","maf":"1","t":"SKAT","k":"l","x":3,"y":3.05},{"g":"B2","maf":"1","t":"SKAT","k":"l","x":4,"y":4.1},{"g":"B2","maf":"1","t":"SKAT","k":"l","x":4.5,"y":4.6},{"g":"B2","maf":"1","t":"SKAT","k":"l","x":4.86,"y":4.79},
{"g":"B2","maf":"1","t":"SKAT","k":"p","x":5.18,"y":5.2},

{"g":"B3","maf":"0.01","t":"Burden","k":"l","x":0,"y":0},{"g":"B3","maf":"0.01","t":"Burden","k":"l","x":1,"y":0.9},{"g":"B3","maf":"0.01","t":"Burden","k":"l","x":2,"y":1.9},{"g":"B3","maf":"0.01","t":"Burden","k":"l","x":3,"y":2.95},{"g":"B3","maf":"0.01","t":"Burden","k":"l","x":4,"y":3.85},{"g":"B3","maf":"0.01","t":"Burden","k":"l","x":4.6,"y":4.6},
{"g":"B3","maf":"0.01","t":"SKAT-O","k":"l","x":0,"y":0},{"g":"B3","maf":"0.01","t":"SKAT-O","k":"l","x":1,"y":1.0},{"g":"B3","maf":"0.01","t":"SKAT-O","k":"l","x":2,"y":2.05},{"g":"B3","maf":"0.01","t":"SKAT-O","k":"l","x":3,"y":3.15},{"g":"B3","maf":"0.01","t":"SKAT-O","k":"l","x":4,"y":4.3},{"g":"B3","maf":"0.01","t":"SKAT-O","k":"l","x":4.5,"y":4.7},
{"g":"B3","maf":"0.01","t":"SKAT","k":"l","x":0,"y":0},{"g":"B3","maf":"0.01","t":"SKAT","k":"l","x":1,"y":1.02},{"g":"B3","maf":"0.01","t":"SKAT","k":"l","x":2,"y":2.05},{"g":"B3","maf":"0.01","t":"SKAT","k":"l","x":3,"y":3.05},{"g":"B3","maf":"0.01","t":"SKAT","k":"l","x":4,"y":4.05},{"g":"B3","maf":"0.01","t":"SKAT","k":"l","x":4.6,"y":4.6},
{"g":"B3","maf":"0.01","t":"SKAT","k":"p","x":4.94,"y":4.96},{"g":"B3","maf":"0.01","t":"SKAT","k":"p","x":5.26,"y":5.1},

{"g":"B3","maf":"0.1","t":"Burden","k":"l","x":0,"y":0},{"g":"B3","maf":"0.1","t":"Burden","k":"l","x":1,"y":0.92},{"g":"B3","maf":"0.1","t":"Burden","k":"l","x":2,"y":1.85},{"g":"B3","maf":"0.1","t":"Burden","k":"l","x":3,"y":2.85},{"g":"B3","maf":"0.1","t":"Burden","k":"l","x":4,"y":3.9},{"g":"B3","maf":"0.1","t":"Burden","k":"l","x":4.6,"y":4.6},{"g":"B3","maf":"0.1","t":"Burden","k":"l","x":4.9,"y":4.9},
{"g":"B3","maf":"0.1","t":"Burden","k":"p","x":5.19,"y":5.8},
{"g":"B3","maf":"0.1","t":"SKAT-O","k":"l","x":0,"y":0},{"g":"B3","maf":"0.1","t":"SKAT-O","k":"l","x":2,"y":2.08},{"g":"B3","maf":"0.1","t":"SKAT-O","k":"l","x":3,"y":3.25},{"g":"B3","maf":"0.1","t":"SKAT-O","k":"l","x":4,"y":4.5},{"g":"B3","maf":"0.1","t":"SKAT-O","k":"l","x":4.4,"y":4.8},
{"g":"B3","maf":"0.1","t":"SKAT-O","k":"p","x":5.19,"y":5.58},
{"g":"B3","maf":"0.1","t":"SKAT","k":"l","x":0,"y":0},{"g":"B3","maf":"0.1","t":"SKAT","k":"l","x":1,"y":1.05},{"g":"B3","maf":"0.1","t":"SKAT","k":"l","x":2,"y":2.1},{"g":"B3","maf":"0.1","t":"SKAT","k":"l","x":3,"y":3.35},{"g":"B3","maf":"0.1","t":"SKAT","k":"l","x":3.5,"y":3.95},{"g":"B3","maf":"0.1","t":"SKAT","k":"l","x":4,"y":4.6},{"g":"B3","maf":"0.1","t":"SKAT","k":"l","x":4.4,"y":4.85},{"g":"B3","maf":"0.1","t":"SKAT","k":"l","x":4.8,"y":5.05},
{"g":"B3","maf":"0.1","t":"SKAT","k":"p","x":4.9,"y":5.18},{"g":"B3","maf":"0.1","t":"SKAT","k":"p","x":5.19,"y":5.48},

{"g":"B3","maf":"1","t":"Burden","k":"l","x":0,"y":0},{"g":"B3","maf":"1","t":"Burden","k":"l","x":1,"y":0.95},{"g":"B3","maf":"1","t":"Burden","k":"l","x":2,"y":1.9},{"g":"B3","maf":"1","t":"Burden","k":"l","x":3,"y":2.85},{"g":"B3","maf":"1","t":"Burden","k":"l","x":4,"y":3.85},{"g":"B3","maf":"1","t":"Burden","k":"l","x":4.5,"y":4.35},{"g":"B3","maf":"1","t":"Burden","k":"l","x":4.75,"y":4.6},
{"g":"B3","maf":"1","t":"Burden","k":"p","x":4.9,"y":4.6},{"g":"B3","maf":"1","t":"Burden","k":"p","x":5.22,"y":4.87},
{"g":"B3","maf":"1","t":"SKAT-O","k":"l","x":0,"y":0},{"g":"B3","maf":"1","t":"SKAT-O","k":"l","x":2,"y":2.08},{"g":"B3","maf":"1","t":"SKAT-O","k":"l","x":3,"y":3.25},{"g":"B3","maf":"1","t":"SKAT-O","k":"l","x":4,"y":4.4},{"g":"B3","maf":"1","t":"SKAT-O","k":"l","x":4.6,"y":4.75},
{"g":"B3","maf":"1","t":"SKAT-O","k":"p","x":5.22,"y":5.93},
{"g":"B3","maf":"1","t":"SKAT","k":"l","x":0,"y":0},{"g":"B3","maf":"1","t":"SKAT","k":"l","x":1,"y":1.05},{"g":"B3","maf":"1","t":"SKAT","k":"l","x":2,"y":2.1},{"g":"B3","maf":"1","t":"SKAT","k":"l","x":3,"y":3.3},{"g":"B3","maf":"1","t":"SKAT","k":"l","x":3.5,"y":3.9},{"g":"B3","maf":"1","t":"SKAT","k":"l","x":4,"y":4.5},{"g":"B3","maf":"1","t":"SKAT","k":"l","x":4.5,"y":4.8},{"g":"B3","maf":"1","t":"SKAT","k":"l","x":4.88,"y":5.05},
{"g":"B3","maf":"1","t":"SKAT","k":"p","x":5.22,"y":5.99},

{"g":"A1","maf":"0.01","k":"r","x":-1,"y":-1,"x2":8,"y2":8},{"g":"A1","maf":"0.1","k":"r","x":-1,"y":-1,"x2":8,"y2":8},{"g":"A1","maf":"1","k":"r","x":-1,"y":-1,"x2":8,"y2":8},
{"g":"A2","maf":"0.01","k":"r","x":-1,"y":-1,"x2":8,"y2":8},{"g":"A2","maf":"0.1","k":"r","x":-1,"y":-1,"x2":8,"y2":8},{"g":"A2","maf":"1","k":"r","x":-1,"y":-1,"x2":8,"y2":8},
{"g":"A3","maf":"0.01","k":"r","x":-1,"y":-1,"x2":8,"y2":8},{"g":"A3","maf":"0.1","k":"r","x":-1,"y":-1,"x2":8,"y2":8},{"g":"A3","maf":"1","k":"r","x":-1,"y":-1,"x2":8,"y2":8},
{"g":"B1","maf":"0.01","k":"r","x":-1,"y":-1,"x2":8,"y2":8},{"g":"B1","maf":"0.1","k":"r","x":-1,"y":-1,"x2":8,"y2":8},{"g":"B1","maf":"1","k":"r","x":-1,"y":-1,"x2":8,"y2":8},
{"g":"B2","maf":"0.01","k":"r","x":-1,"y":-1,"x2":8,"y2":8},{"g":"B2","maf":"0.1","k":"r","x":-1,"y":-1,"x2":8,"y2":8},{"g":"B2","maf":"1","k":"r","x":-1,"y":-1,"x2":8,"y2":8},
{"g":"B3","maf":"0.01","k":"r","x":-1,"y":-1,"x2":8,"y2":8},{"g":"B3","maf":"0.1","k":"r","x":-1,"y":-1,"x2":8,"y2":8},{"g":"B3","maf":"1","k":"r","x":-1,"y":-1,"x2":8,"y2":8}
]
},
"spacing": 16,
"hconcat": [
{
  "title": {"text": "A. SAIGE-GENE", "anchor": "start", "fontSize": 26.5, "offset": 15, "dx": 10},
  "spacing": 20,
  "vconcat": [
    {
      "title": {"text": "Prevalence\u00a0 = 10%", "anchor": "middle", "dx": 41, "offset": 8.5},
      "spacing": 6,
      "hconcat": [
        {"data": {"name": "ytitle"}, "width": 22, "height": 244, "mark": {"type": "text", "angle": 270, "font": "Liberation Sans", "fontSize": 21, "color": "#000000", "baseline": "middle", "align": "center"}, "encoding": {"text": {"field": "label", "type": "nominal"}}},
        {"spacing": 1, "vconcat": [
        {"data": {"name": "strips"}, "facet": {"column": {"field": "maf", "type": "nominal", "header": null}}, "spacing": 8,
         "spec": {"width": 156, "height": 29, "view": {"fill": "#D9D9D9", "stroke": null},
           "mark": {"type": "text", "font": "Liberation Sans", "fontSize": 18, "color": "#1A1A1A", "baseline": "middle", "align": "center"},
           "encoding": {"text": {"field": "label", "type": "nominal"}}}},
        {"data": {"name": "qq"}, "transform": [{"filter": "datum.g == 'A1'"}],
         "title": {"text": "Expected -log10(P-value)", "orient": "bottom", "anchor": "middle", "frame": "bounds", "dx": 8, "font": "Liberation Sans", "fontSize": 21, "offset": 4},
         "facet": {"column": {"field": "maf", "type": "nominal", "header": null}}, "spacing": 8,
         "spec": {"width": 156, "height": 166,
           "encoding": {
             "x": {"field": "x", "type": "quantitative", "scale": {"domain": [-0.26, 5.46], "nice": false, "zero": false}, "axis": {"values": [0,1,2,3,4,5]}},
             "y": {"field": "y", "type": "quantitative", "scale": {"domain": [-0.29, 6.65], "nice": false, "zero": false}, "axis": {"values": [0,2,4,6]}}
           },
           "layer": [
             {"transform": [{"filter": "datum.k == 'l' && datum.t == 'Burden'"}], "mark": {"type": "line", "color": "#F8766D", "strokeWidth": 6.5, "strokeCap": "round", "strokeJoin": "round", "clip": true}, "encoding": {}},
             {"transform": [{"filter": "datum.k == 'l' && datum.t == 'SKAT-O'"}], "mark": {"type": "line", "color": "#619CFF", "strokeWidth": 6.5, "strokeCap": "round", "strokeJoin": "round", "clip": true}, "encoding": {}},
             {"transform": [{"filter": "datum.k == 'l' && datum.t == 'SKAT'"}], "mark": {"type": "line", "color": "#00BA38", "strokeWidth": 6.5, "strokeCap": "round", "strokeJoin": "round", "clip": true}, "encoding": {}},
             {"transform": [{"filter": "datum.k == 'p'"}], "mark": {"type": "circle", "size": 30, "opacity": 1, "clip": true},
              "encoding": {"color": {"field": "t", "type": "nominal", "scale": {"domain": ["Burden","SKAT","SKAT-O"], "range": ["#F8766D","#00BA38","#619CFF"]}, "legend": {"title": null, "orient": "none", "legendX": 1114, "legendY": 79, "labelFontSize": 18, "labelFont": "Liberation Sans", "labelColor": "#000000", "labelOffset": 14, "symbolSize": 45, "symbolType": "circle", "symbolStrokeWidth": 0, "rowPadding": 6.5}}}},
             {"transform": [{"filter": "datum.k == 'r'"}], "mark": {"type": "rule", "color": "#000000", "strokeWidth": 1.1, "clip": true}, "encoding": {"x2": {"field": "x2"}, "y2": {"field": "y2"}}}
           ]}}
        ]}
      ]
    },
    {
      "title": {"text": "Prevalence\u00a0 = 1%", "anchor": "middle", "dx": 41, "offset": 8.5},
      "spacing": 6,
      "hconcat": [
        {"data": {"name": "ytitle"}, "width": 22, "height": 244, "mark": {"type": "text", "angle": 270, "font": "Liberation Sans", "fontSize": 21, "color": "#000000", "baseline": "middle", "align": "center"}, "encoding": {"text": {"field": "label", "type": "nominal"}}},
        {"spacing": 1, "vconcat": [
        {"data": {"name": "strips"}, "facet": {"column": {"field": "maf", "type": "nominal", "header": null}}, "spacing": 8,
         "spec": {"width": 150, "height": 29, "view": {"fill": "#D9D9D9", "stroke": null},
           "mark": {"type": "text", "font": "Liberation Sans", "fontSize": 18, "color": "#1A1A1A", "baseline": "middle", "align": "center"},
           "encoding": {"text": {"field": "label", "type": "nominal"}}}},
        {"data": {"name": "qq"}, "transform": [{"filter": "datum.g == 'A2'"}],
         "title": {"text": "Expected -log10(P-value)", "orient": "bottom", "anchor": "middle", "frame": "bounds", "dx": 15, "font": "Liberation Sans", "fontSize": 21, "offset": 1.5},
         "facet": {"column": {"field": "maf", "type": "nominal", "header": null}}, "spacing": 8,
         "spec": {"width": 150, "height": 166,
           "encoding": {
             "x": {"field": "x", "type": "quantitative", "scale": {"domain": [-0.26, 5.46], "nice": false, "zero": false}, "axis": {"values": [0,1,2,3,4,5]}},
             "y": {"field": "y", "type": "quantitative", "scale": {"domain": [-0.46, 9.72], "nice": false, "zero": false}, "axis": {"values": [0,2.5,5,7.5], "format": ".1f"}}
           },
           "layer": [
             {"transform": [{"filter": "datum.k == 'l' && datum.t == 'Burden'"}], "mark": {"type": "line", "color": "#F8766D", "strokeWidth": 6.5, "strokeCap": "round", "strokeJoin": "round", "clip": true}, "encoding": {}},
             {"transform": [{"filter": "datum.k == 'l' && datum.t == 'SKAT-O'"}], "mark": {"type": "line", "color": "#619CFF", "strokeWidth": 6.5, "strokeCap": "round", "strokeJoin": "round", "clip": true}, "encoding": {}},
             {"transform": [{"filter": "datum.k == 'l' && datum.t == 'SKAT'"}], "mark": {"type": "line", "color": "#00BA38", "strokeWidth": 6.5, "strokeCap": "round", "strokeJoin": "round", "clip": true}, "encoding": {}},
             {"transform": [{"filter": "datum.k == 'p'"}], "mark": {"type": "circle", "size": 30, "opacity": 1, "clip": true},
              "encoding": {"color": {"field": "t", "type": "nominal", "scale": {"domain": ["Burden","SKAT","SKAT-O"], "range": ["#F8766D","#00BA38","#619CFF"]}, "legend": {"title": null, "orient": "none", "legendX": 1114, "legendY": 79, "labelFontSize": 18, "labelFont": "Liberation Sans", "labelColor": "#000000", "labelOffset": 14, "symbolSize": 45, "symbolType": "circle", "symbolStrokeWidth": 0, "rowPadding": 6.5}}}},
             {"transform": [{"filter": "datum.k == 'r'"}], "mark": {"type": "rule", "color": "#000000", "strokeWidth": 1.1, "clip": true}, "encoding": {"x2": {"field": "x2"}, "y2": {"field": "y2"}}}
           ]}}
        ]}
      ]
    },
    {
      "title": {"text": "Prevalence\u00a0 = 0.3%", "anchor": "middle", "dx": 41, "offset": 3.2},
      "spacing": 6,
      "hconcat": [
        {"data": {"name": "ytitle"}, "width": 22, "height": 244, "mark": {"type": "text", "angle": 270, "font": "Liberation Sans", "fontSize": 21, "color": "#000000", "baseline": "middle", "align": "center"}, "encoding": {"text": {"field": "label", "type": "nominal"}}},
        {"spacing": 1, "vconcat": [
        {"data": {"name": "strips"}, "facet": {"column": {"field": "maf", "type": "nominal", "header": null}}, "spacing": 8,
         "spec": {"width": 150, "height": 29, "view": {"fill": "#D9D9D9", "stroke": null},
           "mark": {"type": "text", "font": "Liberation Sans", "fontSize": 18, "color": "#1A1A1A", "baseline": "middle", "align": "center"},
           "encoding": {"text": {"field": "label", "type": "nominal"}}}},
        {"data": {"name": "qq"}, "transform": [{"filter": "datum.g == 'A3'"}],
         "title": {"text": "Expected -log10(P-value)", "orient": "bottom", "anchor": "middle", "frame": "bounds", "dx": 15, "font": "Liberation Sans", "fontSize": 21, "offset": 2},
         "facet": {"column": {"field": "maf", "type": "nominal", "header": null}}, "spacing": 8,
         "spec": {"width": 150, "height": 168,
           "encoding": {
             "x": {"field": "x", "type": "quantitative", "scale": {"domain": [-0.26, 5.46], "nice": false, "zero": false}, "axis": {"values": [0,1,2,3,4,5]}},
             "y": {"field": "y", "type": "quantitative", "scale": {"domain": [-0.45, 9.35], "nice": false, "zero": false}, "axis": {"values": [0,2.5,5,7.5], "format": ".1f"}}
           },
           "layer": [
             {"transform": [{"filter": "datum.k == 'l' && datum.t == 'Burden'"}], "mark": {"type": "line", "color": "#F8766D", "strokeWidth": 6.5, "strokeCap": "round", "strokeJoin": "round", "clip": true}, "encoding": {}},
             {"transform": [{"filter": "datum.k == 'l' && datum.t == 'SKAT-O'"}], "mark": {"type": "line", "color": "#619CFF", "strokeWidth": 6.5, "strokeCap": "round", "strokeJoin": "round", "clip": true}, "encoding": {}},
             {"transform": [{"filter": "datum.k == 'l' && datum.t == 'SKAT'"}], "mark": {"type": "line", "color": "#00BA38", "strokeWidth": 6.5, "strokeCap": "round", "strokeJoin": "round", "clip": true}, "encoding": {}},
             {"transform": [{"filter": "datum.k == 'p'"}], "mark": {"type": "circle", "size": 30, "opacity": 1, "clip": true},
              "encoding": {"color": {"field": "t", "type": "nominal", "scale": {"domain": ["Burden","SKAT","SKAT-O"], "range": ["#F8766D","#00BA38","#619CFF"]}, "legend": {"title": null, "orient": "none", "legendX": 1114, "legendY": 79, "labelFontSize": 18, "labelFont": "Liberation Sans", "labelColor": "#000000", "labelOffset": 14, "symbolSize": 45, "symbolType": "circle", "symbolStrokeWidth": 0, "rowPadding": 6.5}}}},
             {"transform": [{"filter": "datum.k == 'r'"}], "mark": {"type": "rule", "color": "#000000", "strokeWidth": 1.1, "clip": true}, "encoding": {"x2": {"field": "x2"}, "y2": {"field": "y2"}}}
           ]}}
        ]}
      ]
    }
  ]
},
{
  "title": {"text": "B. SAIGE-GENE+", "anchor": "start", "fontSize": 26.5, "offset": 15, "dx": 8},
  "spacing": 17,
  "vconcat": [
    {
      "title": {"text": "Prevalence\u00a0 = 10%", "anchor": "middle", "dx": 40, "offset": 8.5},
      "spacing": 6,
      "hconcat": [
        {"data": {"name": "ytitle"}, "width": 22, "height": 244, "mark": {"type": "text", "angle": 270, "font": "Liberation Sans", "fontSize": 21, "color": "#000000", "baseline": "middle", "align": "center"}, "encoding": {"text": {"field": "label", "type": "nominal"}}},
        {"spacing": 1, "vconcat": [
        {"data": {"name": "strips"}, "facet": {"column": {"field": "maf", "type": "nominal", "header": null}}, "spacing": 8,
         "spec": {"width": 157, "height": 29, "view": {"fill": "#D9D9D9", "stroke": null},
           "mark": {"type": "text", "font": "Liberation Sans", "fontSize": 18, "color": "#1A1A1A", "baseline": "middle", "align": "center"},
           "encoding": {"text": {"field": "label", "type": "nominal"}}}},
        {"data": {"name": "qq"}, "transform": [{"filter": "datum.g == 'B1'"}],
         "title": {"text": "Expected -log10(P-value)", "orient": "bottom", "anchor": "middle", "frame": "bounds", "dx": 8, "font": "Liberation Sans", "fontSize": 21, "offset": 4},
         "facet": {"column": {"field": "maf", "type": "nominal", "header": null}}, "spacing": 8,
         "spec": {"width": 157, "height": 167,
           "encoding": {
             "x": {"field": "x", "type": "quantitative", "scale": {"domain": [-0.26, 5.5], "nice": false, "zero": false}, "axis": {"values": [0,1,2,3,4,5]}},
             "y": {"field": "y", "type": "quantitative", "scale": {"domain": [-0.32, 6.74], "nice": false, "zero": false}, "axis": {"values": [0,2,4,6]}}
           },
           "layer": [
             {"transform": [{"filter": "datum.k == 'l' && datum.t == 'Burden'"}], "mark": {"type": "line", "color": "#F8766D", "strokeWidth": 6.5, "strokeCap": "round", "strokeJoin": "round", "clip": true}, "encoding": {}},
             {"transform": [{"filter": "datum.k == 'l' && datum.t == 'SKAT-O'"}], "mark": {"type": "line", "color": "#619CFF", "strokeWidth": 6.5, "strokeCap": "round", "strokeJoin": "round", "clip": true}, "encoding": {}},
             {"transform": [{"filter": "datum.k == 'l' && datum.t == 'SKAT'"}], "mark": {"type": "line", "color": "#00BA38", "strokeWidth": 6.5, "strokeCap": "round", "strokeJoin": "round", "clip": true}, "encoding": {}},
             {"transform": [{"filter": "datum.k == 'p'"}], "mark": {"type": "circle", "size": 30, "opacity": 1, "clip": true},
              "encoding": {"color": {"field": "t", "type": "nominal", "scale": {"domain": ["Burden","SKAT","SKAT-O"], "range": ["#F8766D","#00BA38","#619CFF"]}, "legend": {"title": null, "orient": "none", "legendX": 1114, "legendY": 79, "labelFontSize": 18, "labelFont": "Liberation Sans", "labelColor": "#000000", "labelOffset": 14, "symbolSize": 45, "symbolType": "circle", "symbolStrokeWidth": 0, "rowPadding": 6.5}}}},
             {"transform": [{"filter": "datum.k == 'r'"}], "mark": {"type": "rule", "color": "#000000", "strokeWidth": 1.1, "clip": true}, "encoding": {"x2": {"field": "x2"}, "y2": {"field": "y2"}}}
           ]}}
        ]}
      ]
    },
    {
      "title": {"text": "Prevalence\u00a0 = 1%", "anchor": "middle", "dx": 40, "offset": 8.5},
      "spacing": 6,
      "hconcat": [
        {"data": {"name": "ytitle"}, "width": 22, "height": 244, "mark": {"type": "text", "angle": 270, "font": "Liberation Sans", "fontSize": 21, "color": "#000000", "baseline": "middle", "align": "center"}, "encoding": {"text": {"field": "label", "type": "nominal"}}},
        {"spacing": 1, "vconcat": [
        {"data": {"name": "strips"}, "facet": {"column": {"field": "maf", "type": "nominal", "header": null}}, "spacing": 8,
         "spec": {"width": 157, "height": 29, "view": {"fill": "#D9D9D9", "stroke": null},
           "mark": {"type": "text", "font": "Liberation Sans", "fontSize": 18, "color": "#1A1A1A", "baseline": "middle", "align": "center"},
           "encoding": {"text": {"field": "label", "type": "nominal"}}}},
        {"data": {"name": "qq"}, "transform": [{"filter": "datum.g == 'B2'"}],
         "title": {"text": "Expected -log10(P-value)", "orient": "bottom", "anchor": "middle", "frame": "bounds", "dx": 8, "font": "Liberation Sans", "fontSize": 21, "offset": 2},
         "facet": {"column": {"field": "maf", "type": "nominal", "header": null}}, "spacing": 8,
         "spec": {"width": 157, "height": 167,
           "encoding": {
             "x": {"field": "x", "type": "quantitative", "scale": {"domain": [-0.26, 5.5], "nice": false, "zero": false}, "axis": {"values": [0,1,2,3,4,5]}},
             "y": {"field": "y", "type": "quantitative", "scale": {"domain": [-0.27, 5.69], "nice": false, "zero": false}, "axis": {"values": [0,2,4]}}
           },
           "layer": [
             {"transform": [{"filter": "datum.k == 'l' && datum.t == 'Burden'"}], "mark": {"type": "line", "color": "#F8766D", "strokeWidth": 6.5, "strokeCap": "round", "strokeJoin": "round", "clip": true}, "encoding": {}},
             {"transform": [{"filter": "datum.k == 'l' && datum.t == 'SKAT-O'"}], "mark": {"type": "line", "color": "#619CFF", "strokeWidth": 6.5, "strokeCap": "round", "strokeJoin": "round", "clip": true}, "encoding": {}},
             {"transform": [{"filter": "datum.k == 'l' && datum.t == 'SKAT'"}], "mark": {"type": "line", "color": "#00BA38", "strokeWidth": 6.5, "strokeCap": "round", "strokeJoin": "round", "clip": true}, "encoding": {}},
             {"transform": [{"filter": "datum.k == 'p'"}], "mark": {"type": "circle", "size": 30, "opacity": 1, "clip": true},
              "encoding": {"color": {"field": "t", "type": "nominal", "scale": {"domain": ["Burden","SKAT","SKAT-O"], "range": ["#F8766D","#00BA38","#619CFF"]}, "legend": {"title": null, "orient": "none", "legendX": 1114, "legendY": 79, "labelFontSize": 18, "labelFont": "Liberation Sans", "labelColor": "#000000", "labelOffset": 14, "symbolSize": 45, "symbolType": "circle", "symbolStrokeWidth": 0, "rowPadding": 6.5}}}},
             {"transform": [{"filter": "datum.k == 'r'"}], "mark": {"type": "rule", "color": "#000000", "strokeWidth": 1.1, "clip": true}, "encoding": {"x2": {"field": "x2"}, "y2": {"field": "y2"}}}
           ]}}
        ]}
      ]
    },
    {
      "title": {"text": "Prevalence\u00a0 = 0.3%", "anchor": "middle", "dx": 45, "offset": 4.5},
      "spacing": 6,
      "hconcat": [
        {"data": {"name": "ytitle"}, "width": 22, "height": 244, "mark": {"type": "text", "angle": 270, "font": "Liberation Sans", "fontSize": 21, "color": "#000000", "baseline": "middle", "align": "center"}, "encoding": {"text": {"field": "label", "type": "nominal"}}},
        {"spacing": 1, "vconcat": [
        {"data": {"name": "strips"}, "facet": {"column": {"field": "maf", "type": "nominal", "header": null}}, "spacing": 8,
         "spec": {"width": 150, "height": 29, "view": {"fill": "#D9D9D9", "stroke": null},
           "mark": {"type": "text", "font": "Liberation Sans", "fontSize": 18, "color": "#1A1A1A", "baseline": "middle", "align": "center"},
           "encoding": {"text": {"field": "label", "type": "nominal"}}}},
        {"data": {"name": "qq"}, "transform": [{"filter": "datum.g == 'B3'"}],
         "title": {"text": "Expected -log10(P-value)", "orient": "bottom", "anchor": "middle", "frame": "bounds", "dx": 8, "font": "Liberation Sans", "fontSize": 21, "offset": 1.5},
         "facet": {"column": {"field": "maf", "type": "nominal", "header": null}}, "spacing": 8,
         "spec": {"width": 150, "height": 166,
           "encoding": {
             "x": {"field": "x", "type": "quantitative", "scale": {"domain": [-0.26, 5.46], "nice": false, "zero": false}, "axis": {"values": [0,1,2,3,4,5]}},
             "y": {"field": "y", "type": "quantitative", "scale": {"domain": [-0.3, 6.3], "nice": false, "zero": false}, "axis": {"values": [0,2,4,6]}}
           },
           "layer": [
             {"transform": [{"filter": "datum.k == 'l' && datum.t == 'Burden'"}], "mark": {"type": "line", "color": "#F8766D", "strokeWidth": 6.5, "strokeCap": "round", "strokeJoin": "round", "clip": true}, "encoding": {}},
             {"transform": [{"filter": "datum.k == 'l' && datum.t == 'SKAT-O'"}], "mark": {"type": "line", "color": "#619CFF", "strokeWidth": 6.5, "strokeCap": "round", "strokeJoin": "round", "clip": true}, "encoding": {}},
             {"transform": [{"filter": "datum.k == 'l' && datum.t == 'SKAT'"}], "mark": {"type": "line", "color": "#00BA38", "strokeWidth": 6.5, "strokeCap": "round", "strokeJoin": "round", "clip": true}, "encoding": {}},
             {"transform": [{"filter": "datum.k == 'p'"}], "mark": {"type": "circle", "size": 30, "opacity": 1, "clip": true},
              "encoding": {"color": {"field": "t", "type": "nominal", "scale": {"domain": ["Burden","SKAT","SKAT-O"], "range": ["#F8766D","#00BA38","#619CFF"]}, "legend": {"title": null, "orient": "none", "legendX": 1114, "legendY": 79, "labelFontSize": 18, "labelFont": "Liberation Sans", "labelColor": "#000000", "labelOffset": 14, "symbolSize": 45, "symbolType": "circle", "symbolStrokeWidth": 0, "rowPadding": 6.5}}}},
             {"transform": [{"filter": "datum.k == 'r'"}], "mark": {"type": "rule", "color": "#000000", "strokeWidth": 1.1, "clip": true}, "encoding": {"x2": {"field": "x2"}, "y2": {"field": "y2"}}}
           ]}}
        ]}
      ]
    }
  ]
}
]
}
